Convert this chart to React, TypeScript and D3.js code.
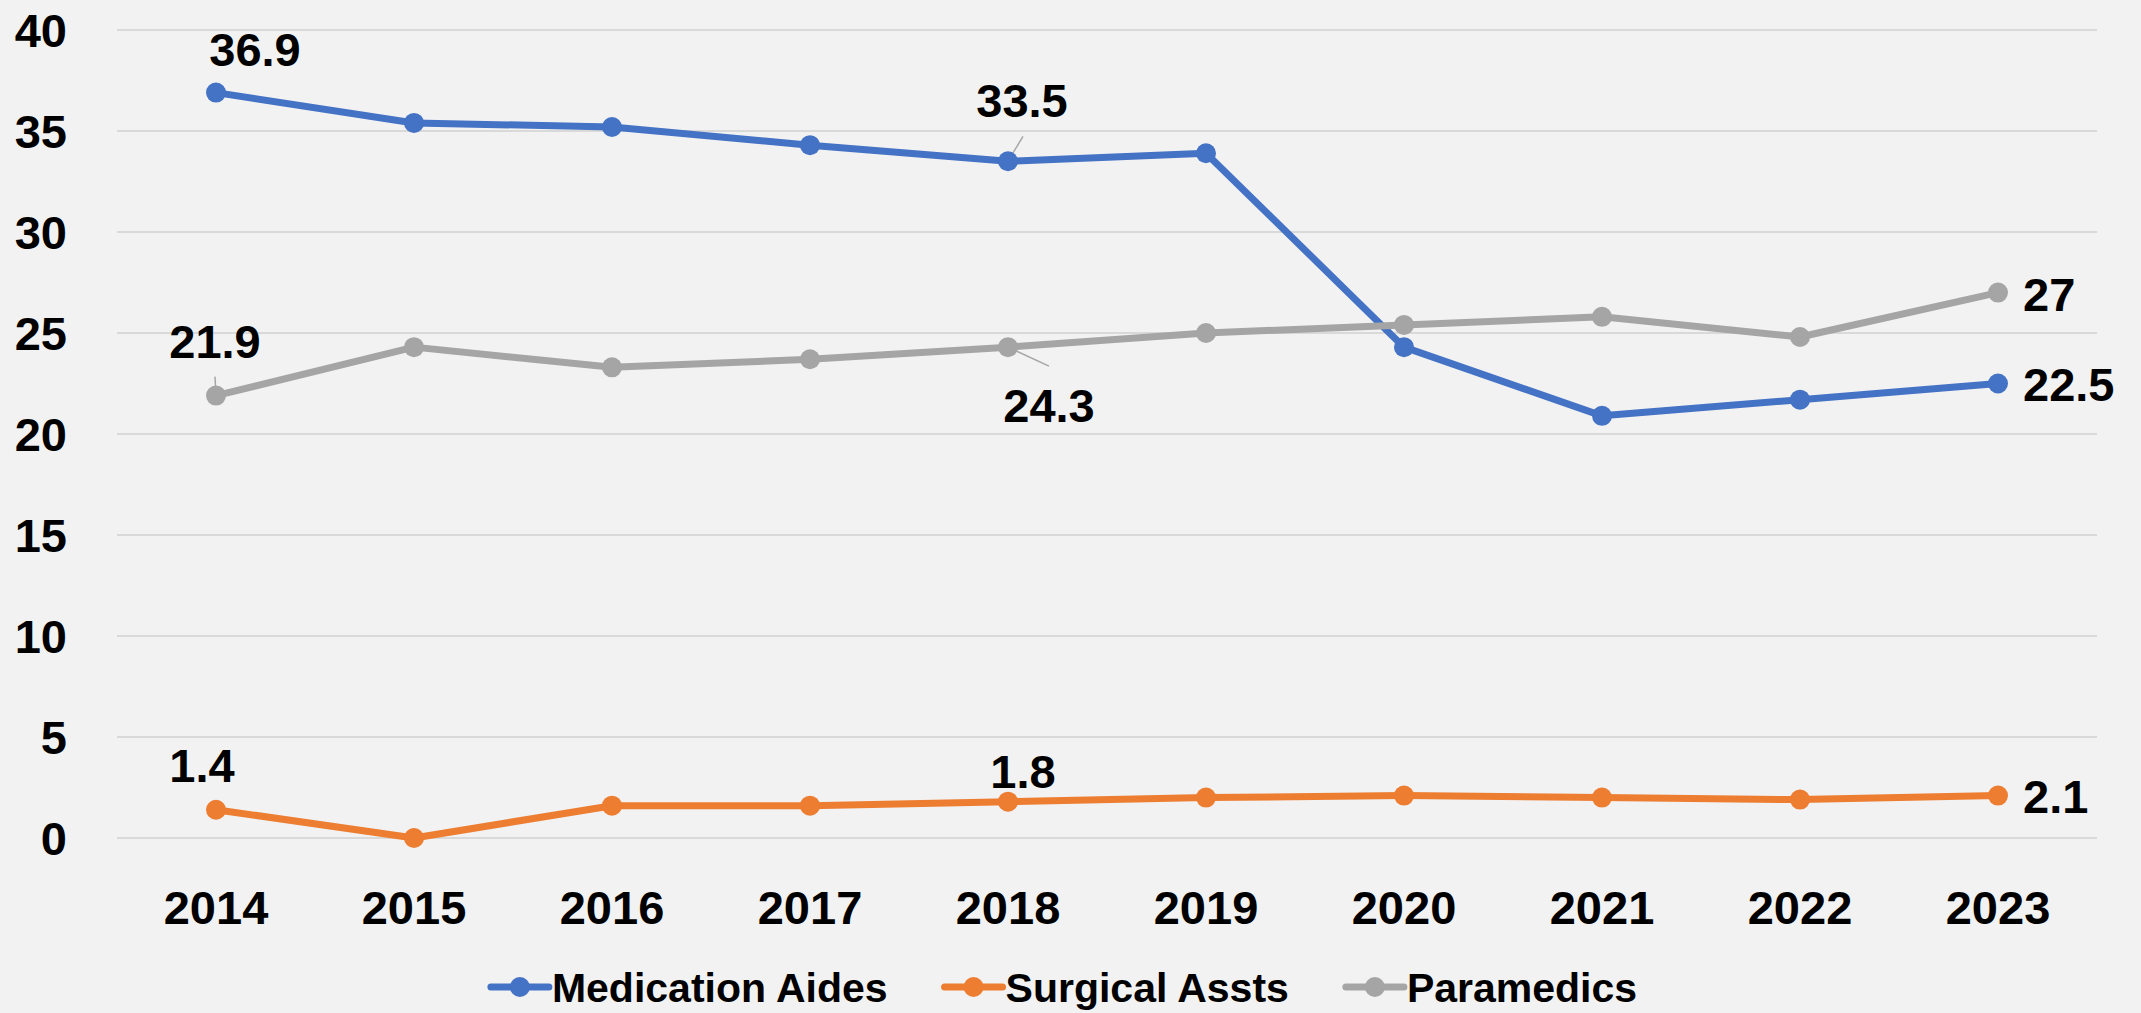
import React, { useEffect, useRef } from "react";
import * as d3 from "d3";

const years = ["2014", "2015", "2016", "2017", "2018", "2019", "2020", "2021", "2022", "2023"];
const medicationAides = [36.9, 35.4, 35.2, 34.3, 33.5, 33.9, 24.3, 20.9, 21.7, 22.5];
const surgicalAssts = [1.4, 0, 1.6, 1.6, 1.8, 2.0, 2.1, 2.0, 1.9, 2.1];
const paramedics = [21.9, 24.3, 23.3, 23.7, 24.3, 25.0, 25.4, 25.8, 24.8, 27];
const yTicks = [0, 5, 10, 15, 20, 25, 30, 35, 40];
const seriesNames = ["Medication Aides", "Surgical Assts", "Paramedics"];
const seriesColors = ["#4472C4", "#ED7D31", "#A5A5A5"];

// data labels: series index, year index, label offset from point (center), anchor, optional leader end offset
const dataLabels = [
  { s: 0, i: 0, dx: 39, dy: -43, anchor: "middle", leader: null },
  { s: 0, i: 4, dx: 14, dy: -61, anchor: "middle", leader: [15, -25] },
  { s: 0, i: 9, dx: 25, dy: 1, anchor: "start", leader: null },
  { s: 1, i: 0, dx: -14, dy: -45, anchor: "middle", leader: null },
  { s: 1, i: 4, dx: 15, dy: -30, anchor: "middle", leader: null },
  { s: 1, i: 9, dx: 25, dy: 1, anchor: "start", leader: null },
  { s: 2, i: 0, dx: -1, dy: -54, anchor: "middle", leader: [-1, -19] },
  { s: 2, i: 4, dx: 41, dy: 58, anchor: "middle", leader: [41, 19] },
  { s: 2, i: 9, dx: 25, dy: 2, anchor: "start", leader: null },
];

const W = 2141;
const H = 1013;
const FONT = "'Liberation Sans', Arial, sans-serif";

export default function App() {
  const ref = useRef<SVGSVGElement | null>(null);

  useEffect(() => {
    const svg = d3.select(ref.current);
    svg.selectAll("*").remove();
    const series = [medicationAides, surgicalAssts, paramedics];

    svg.append("rect").attr("width", W).attr("height", H).attr("fill", "#F2F2F2");

    const x = d3.scaleBand<string>().domain(years).range([117, 2097]);
    const cx = (i: number) => (x(years[i]) as number) + x.bandwidth() / 2;
    const y = d3.scaleLinear().domain([0, 40]).range([838, 30]);
    const capMid = 0.358 * 47;

    // gridlines
    svg.append("g")
      .selectAll("line")
      .data(yTicks)
      .join("line")
      .attr("x1", 117)
      .attr("x2", 2097)
      .attr("y1", (d) => y(d))
      .attr("y2", (d) => y(d))
      .attr("stroke", "#D9D9D9")
      .attr("stroke-width", 2);

    // y labels
    svg.append("g")
      .selectAll("text")
      .data(yTicks)
      .join("text")
      .attr("x", 67)
      .attr("y", (d) => y(d) + capMid)
      .attr("text-anchor", "end")
      .attr("font-family", FONT)
      .attr("font-weight", "bold")
      .attr("font-size", 47)
      .attr("fill", "#000")
      .text((d) => String(d));

    // x labels
    svg.append("g")
      .selectAll("text")
      .data(years)
      .join("text")
      .attr("x", (_d, i) => cx(i))
      .attr("y", 907.5 + capMid)
      .attr("text-anchor", "middle")
      .attr("font-family", FONT)
      .attr("font-weight", "bold")
      .attr("font-size", 47)
      .attr("fill", "#000")
      .text((d) => d);

    // leader lines
    dataLabels.forEach((l) => {
      if (!l.leader) return;
      const px = cx(l.i);
      const py = y(series[l.s][l.i]);
      svg.append("line")
        .attr("x1", px)
        .attr("y1", py)
        .attr("x2", px + l.leader[0])
        .attr("y2", py + l.leader[1])
        .attr("stroke", "#A6A6A6")
        .attr("stroke-width", 1.5);
    });

    // lines + markers
    const line = d3.line<number>().x((_d, i) => cx(i)).y((d) => y(d));
    series.forEach((vals, s) => {
      svg.append("path")
        .attr("d", line(vals) as string)
        .attr("fill", "none")
        .attr("stroke", seriesColors[s])
        .attr("stroke-width", 7)
        .attr("stroke-linejoin", "round")
        .attr("stroke-linecap", "round");
    });
    series.forEach((vals, s) => {
      svg.append("g")
        .selectAll("circle")
        .data(vals)
        .join("circle")
        .attr("cx", (_d, i) => cx(i))
        .attr("cy", (d) => y(d))
        .attr("r", 10)
        .attr("fill", seriesColors[s]);
    });

    // data labels
    dataLabels.forEach((l) => {
      const px = cx(l.i);
      const py = y(series[l.s][l.i]);
      svg.append("text")
        .attr("x", px + l.dx)
        .attr("y", py + l.dy + capMid)
        .attr("text-anchor", l.anchor)
        .attr("font-family", FONT)
        .attr("font-weight", "bold")
        .attr("font-size", 47)
        .attr("fill", "#000")
        .text(String(series[l.s][l.i]));
    });

    // legend
    const lg = svg.append("g");
    const markerW = 58;
    const textGap = 3;
    const itemGap = 57;
    const legendFont = 41;
    const items = seriesNames.map((name, s) => {
      const g = lg.append("g");
      g.append("line")
        .attr("x1", 0).attr("x2", markerW)
        .attr("y1", 0).attr("y2", 0)
        .attr("stroke", seriesColors[s])
        .attr("stroke-width", 7)
        .attr("stroke-linecap", "round");
      g.append("circle").attr("cx", markerW / 2).attr("cy", 0).attr("r", 10).attr("fill", seriesColors[s]);
      const t = g.append("text")
        .attr("x", markerW + textGap)
        .attr("y", 0.358 * legendFont)
        .attr("font-family", FONT)
        .attr("font-weight", "bold")
        .attr("font-size", legendFont)
        .attr("fill", "#000")
        .text(name);
      const tw = (t.node() as SVGTextElement).getComputedTextLength();
      return { g, w: markerW + textGap + tw };
    });
    const total = d3.sum(items, (d) => d.w) + itemGap * (items.length - 1);
    let xpos = 1064 - total / 2;
    items.forEach((it) => {
      it.g.attr("transform", `translate(${xpos},987)`);
      xpos += it.w + itemGap;
    });
  }, []);

  return (
    <svg
      ref={ref}
      width={W}
      height={H}
      style={{ position: "absolute", left: 0, top: 0, display: "block" }}
    />
  );
}
